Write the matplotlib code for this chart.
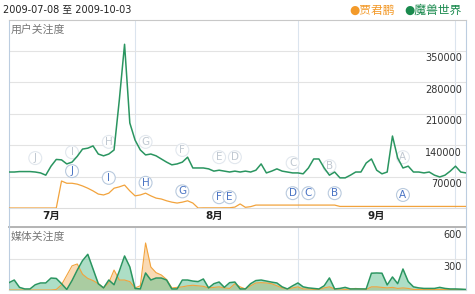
import numpy as np
import pandas as pd
import matplotlib
matplotlib.use("Agg")
import matplotlib.pyplot as plt
from matplotlib.transforms import offset_copy

plt.rcParams['font.family'] = ['DejaVu Sans', 'Noto Sans CJK SC']

# 日期范围 2009-07-08 .. 2009-10-03，按天
dates = pd.date_range('2009-07-08', '2009-10-03', freq='D')

# 用户关注度（魔兽世界）
user_wow = [80000, 80000, 81000, 81000, 81000, 80000, 78000, 73000, 93000, 108000,
            107000, 98000, 102000, 115000, 131000, 133000, 138000, 120000, 116000, 120000,
            129000, 240000, 364000, 189000, 151000, 129000, 118000, 120000, 116000, 109000,
            102000, 96000, 98000, 102000, 113000, 89000, 89000, 89000, 87000, 82000,
            84000, 82000, 80000, 82000, 80000, 82000, 80000, 84000, 98000, 78000,
            82000, 87000, 82000, 80000, 78000, 78000, 76000, 89000, 109000, 109000,
            89000, 73000, 80000, 67000, 67000, 73000, 80000, 80000, 100000, 109000,
            84000, 76000, 80000, 160000, 111000, 89000, 93000, 80000, 80000, 78000,
            80000, 73000, 69000, 73000, 82000, 93000, 80000, 78000]

# 用户关注度（贾君鹏）
user_jjp = [0, 0, 0, 0, 0, 0, 0, 0, 0, 0,
            60000, 55000, 55000, 53000, 49000, 44000, 38000, 31000, 29000, 33000,
            44000, 47000, 51000, 38000, 27000, 29000, 33000, 27000, 22000, 20000,
            16000, 13000, 11000, 13000, 16000, 11000, 0, 300, 300, 300,
            300, 500, 500, 2000, 9000, 1500, 3000, 6500, 6500, 6500,
            6500, 6500, 6500, 6500, 6500, 6500, 6500, 6500, 6500, 6500,
            6500, 6500, 6500, 3500, 3500, 3500, 3500, 3500, 3500, 3500,
            3500, 3500, 3500, 3500, 3500, 3500, 3500, 3500, 3500, 3500,
            3500, 3500, 3500, 3500, 3500, 3500, 3500, 3500]

# 媒体关注度
media_wow = [70, 95, 25, 10, 10, 50, 67, 67, 114, 110,
             60, 5, 90, 190, 280, 340, 200, 60, 20, 95,
             50, 180, 324, 220, 15, 10, 162, 95, 114, 114,
             95, 10, 10, 95, 95, 85, 80, 105, 20, 60,
             76, 25, 70, 76, 10, 10, 60, 90, 95, 85,
             75, 67, 30, 10, 40, 67, 30, 20, 15, 10,
             40, 115, 10, 15, 25, 10, 10, 10, 10, 160,
             162, 160, 48, 124, 60, 200, 80, 30, 20, 15,
             15, 15, 25, 15, 10, 10, 8, 5]

media_jjp = [0, 0, 0, 0, 0, 0, 0, 0, 0, 5,
             50, 140, 230, 248, 150, 110, 90, 60, 20, 70,
             190, 95, 95, 80, 20, 40, 448, 219, 165, 143,
             100, 20, 25, 30, 40, 45, 40, 35, 20, 25,
             30, 20, 15, 60, 30, 10, 40, 67, 70, 67,
             60, 40, 20, 10, 20, 30, 10, 10, 5, 5,
             20, 30, 10, 10, 5, 10, 15, 10, 5, 30,
             30, 25, 20, 25, 15, 20, 15, 5, 5, 5,
             5, 5, 5, 5, 5, 5, 5, 5]

# 事件标记
event_letters = ['J', 'I', 'H', 'G', 'F', 'E', 'D', 'C', 'B', 'A']
wow_event_dates = ['2009-07-13', '2009-07-20', '2009-07-27', '2009-08-03', '2009-08-10',
                   '2009-08-17', '2009-08-20', '2009-08-31', '2009-09-07', '2009-09-21']
wow_event_y = [111000, 124000, 147000, 147000, 129000, 113000, 113000, 100000, 93000, 113000]
jjp_event_dates = ['2009-07-20', '2009-07-27', '2009-08-03', '2009-08-10', '2009-08-17',
                   '2009-08-19', '2009-08-31', '2009-09-03', '2009-09-08', '2009-09-21']
jjp_event_y = [82000, 67000, 56000, 37000, 24000, 24000, 33000, 33000, 33000, 29000]

user_ticks = [70000, 140000, 210000, 280000, 350000]
media_ticks = [300, 600]
month_starts = ['2009-08-01', '2009-09-01', '2009-10-01']
month_label_dates = ['2009-07-16', '2009-08-16', '2009-09-16']
month_labels = ['7月', '8月', '9月']

green = '#2a9560'
orange = '#f2a33c'
grid_c = '#e3e3e3'
border_c = '#bccde0'

W, H = 475, 294
fig = plt.figure(figsize=(W / 100, H / 100), dpi=100)

def fx(px):
    return px / W

def fy(py):
    return 1 - py / H

left, right = 9, 466
ax = fig.add_axes([fx(left), fy(208), fx(right - left), (208 - 20) / H])
ax2 = fig.add_axes([fx(left), fy(290), fx(right - left), (290 - 227) / H])

x0, x1 = dates[0], dates[-1]

# 上图
ax.plot(dates, user_jjp, color=orange, lw=0.9, zorder=3)
ax.plot(dates, user_wow, color=green, lw=1.1, zorder=4)
ax.set_xlim(x0, x1)
ax.set_ylim(0, 418000)
ax.set_yticks(user_ticks)
ax.yaxis.grid(True, color=grid_c, lw=0.8)
ax.tick_params(axis='y', length=0, labelleft=False)
for d in month_starts:
    ax.axvline(pd.Timestamp(d), color='#dbe4ee', lw=0.8, zorder=0)
ax.set_xticks([pd.Timestamp(d) for d in month_label_dates])
ax.set_xticklabels(month_labels, fontsize=7.5, color='#222222', fontweight='bold')
ax.tick_params(axis='x', length=0, pad=2)
trans = offset_copy(ax.get_yaxis_transform(), fig=fig, y=-7.5, units='dots')
for v in user_ticks:
    ax.text(0.991, v, str(v), transform=trans, ha='right', va='center',
            fontsize=7, color='#333333')

for s in ['left', 'right']:
    ax.spines[s].set_color(border_c)
ax.spines['top'].set_color('#c8c8c8')
ax.spines['bottom'].set_color('#dddddd')

badge = dict(boxstyle='circle,pad=0.14', lw=0.8)
for letter, d, y in zip(event_letters, wow_event_dates, wow_event_y):
    ax.text(pd.Timestamp(d), y, letter, ha='center', va='center', fontsize=7.5,
            color='#c0c8d1', zorder=2,
            bbox=dict(badge, fc='white', ec='#dfe5ec', alpha=0.9))
for letter, d, y in zip(event_letters, jjp_event_dates, jjp_event_y):
    ax.text(pd.Timestamp(d), y, letter, ha='center', va='center', fontsize=7.5,
            color='#4a74c4', zorder=5,
            bbox=dict(badge, fc='white', ec='#b9cade'))

# 下图
ax2.fill_between(dates, media_jjp, color='#f6b66a', alpha=0.5, lw=0, zorder=2)
ax2.fill_between(dates, media_wow, color='#5cbf8f', alpha=0.5, lw=0, zorder=3)
ax2.plot(dates, media_jjp, color=orange, lw=0.8, zorder=4)
ax2.plot(dates, media_wow, color=green, lw=1.1, zorder=5)
ax2.set_xlim(x0, x1)
ax2.set_ylim(0, 600)
ax2.set_yticks(media_ticks)
ax2.set_xticks([])
ax2.yaxis.grid(True, color=grid_c, lw=0.8)
ax2.tick_params(axis='y', length=0, labelleft=False)
for d in month_starts:
    ax2.axvline(pd.Timestamp(d), color='#dbe4ee', lw=0.8, zorder=0)
trans2 = offset_copy(ax2.get_yaxis_transform(), fig=fig, y=-8.5, units='dots')
for v in media_ticks:
    ax2.text(0.991, v, str(v), transform=trans2, ha='right', va='center',
             fontsize=7, color='#333333')
for s in ['left', 'right']:
    ax2.spines[s].set_color(border_c)
ax2.spines['top'].set_color('#b4b4b4')
ax2.spines['top'].set_linewidth(1.4)
ax2.spines['bottom'].set_color('#dddddd')

# 两图之间的边框
fig.add_artist(plt.Line2D([fx(left), fx(left)], [fy(208), fy(227)], color=border_c, lw=0.8))
fig.add_artist(plt.Line2D([fx(right), fx(right)], [fy(208), fy(227)], color=border_c, lw=0.8))

# 标题与图例
fig.text(fx(3), fy(9), '2009-07-08 至 2009-10-03', fontsize=7, color='#222222', va='center')
fig.text(fx(349), fy(10), '●贾君鹏', fontsize=8.5, color='#f39a2a', va='center')
fig.text(fx(404), fy(10), '●魔兽世界', fontsize=8.5, color='#1a8a4e', va='center')
fig.text(fx(11), fy(29), '用户关注度', fontsize=7.8, color='#777777', va='center')
fig.text(fx(11), fy(237), '媒体关注度', fontsize=7.8, color='#777777', va='center')

fig.savefig('out.png', dpi=100)
